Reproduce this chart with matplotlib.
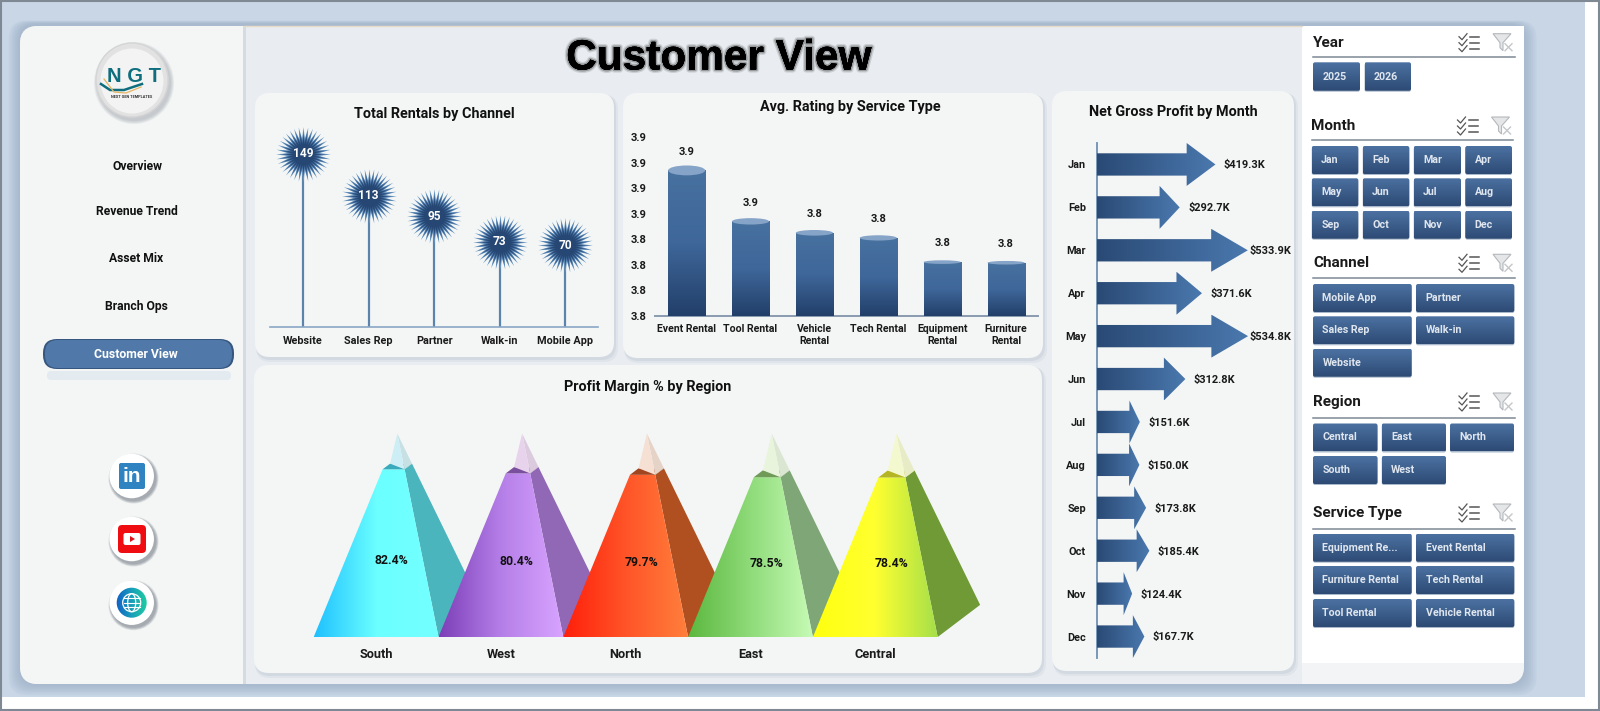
import numpy as np
import matplotlib
matplotlib.use("Agg")
import matplotlib.pyplot as plt
import matplotlib.patheffects as pe
from matplotlib.colors import LinearSegmentedColormap
from matplotlib.patches import Ellipse, FancyBboxPatch, Polygon, Rectangle
from matplotlib.path import Path

W, H = 1600, 711
FONT = ["Roboto", "DejaVu Sans"]
SANS = ["Liberation Sans", "DejaVu Sans"]
plt.rcParams["font.family"] = FONT
plt.rcParams["font.weight"] = "bold"

# chart data
channels = ["Website", "Sales Rep", "Partner", "Walk-in", "Mobile App"]
rentals = [149, 113, 95, 73, 70]

services = ["Event Rental", "Tool Rental", "Vehicle\nRental", "Tech Rental", "Equipment\nRental", "Furniture\nRental"]
ratings = [3.894, 3.854, 3.845, 3.841, 3.822, 3.8215]
rating_ticks = [3.78, 3.80, 3.82, 3.84, 3.86, 3.88, 3.90, 3.92]

months = ["Jan", "Feb", "Mar", "Apr", "May", "Jun", "Jul", "Aug", "Sep", "Oct", "Nov", "Dec"]
profit = [419.3, 292.7, 533.9, 371.6, 534.8, 312.8, 151.6, 150.0, 173.8, 185.4, 124.4, 167.7]

regions = ["South", "West", "North", "East", "Central"]
margins = [82.4, 80.4, 79.7, 78.5, 78.4]

# nav and slicers
nav_items = ["Overview", "Revenue Trend", "Asset Mix", "Branch Ops"]
nav_active = "Customer View"
slicer_year = ["2025", "2026"]
slicer_channel = ["Mobile App", "Partner", "Sales Rep", "Walk-in", "Website"]
slicer_region = ["Central", "East", "North", "South", "West"]
slicer_service = ["Equipment Re...", "Event Rental", "Furniture Rental", "Tech Rental", "Tool Rental", "Vehicle Rental"]

fig = plt.figure(figsize=(W / 100, H / 100), dpi=100, facecolor="white")
bg = fig.add_axes([0, 0, 1, 1])
bg.set_xlim(0, W)
bg.set_ylim(H, 0)
bg.axis("off")


def px_axes(l, t, r, b):
    ax = fig.add_axes([l / W, 1 - b / H, (r - l) / W, (b - t) / H])
    ax.patch.set_alpha(0)
    ax.tick_params(length=0)
    for s in ax.spines.values():
        s.set_visible(False)
    return ax


def rbox(x0, y0, x1, y1, r, **kw):
    p = FancyBboxPatch((x0 + r, y0 + r), x1 - x0 - 2 * r, y1 - y0 - 2 * r,
                       boxstyle=f"round,pad={r},rounding_size={r}", linewidth=kw.pop("lw", 0), **kw)
    bg.add_patch(p)
    return p


def card(x0, y0, x1, y1, r=15):
    rbox(x0 + 1, y0 + 2, x1 + 4, y1 + 5, r, fc="#dfe4ea")
    rbox(x0 + 1, y0 + 1, x1 + 2, y1 + 3, r, fc="#d3d9e1")
    rbox(x0, y0, x1, y1, r, fc="#f4f6f6")


def gradient(ax, clip, extent, cols, vertical=False, z=3):
    cmap = LinearSegmentedColormap.from_list("g", cols)
    arr = np.linspace(0, 1, 128).reshape(-1, 1) if vertical else np.linspace(0, 1, 128).reshape(1, -1)
    im = ax.imshow(arr, extent=extent, cmap=cmap, aspect="auto", zorder=z, origin="upper")
    im.set_clip_path(clip)
    return im


def button(x0, y0, x1, y1, label):
    rbox(x0, y0 + 1, x1, y1 + 1, 2, fc="#a9b8ca")
    p = rbox(x0, y0, x1, y1, 2, fc="none")
    gradient(bg, p, (x0, x1, y1, y0), ["#4c72a2", "#2d4a74"], vertical=True)
    bg.text(x0 + 9.5, (y0 + y1) / 2, label, color="#dfe6ef", fontsize=7.7, va="center", ha="left", zorder=5)


def slicer_header(x0, x1, y_title, y_line, title):
    bg.text(x0, y_title, title, fontsize=11, color="#1a1a1a", va="center", ha="left")
    bg.plot([x0, x1], [y_line, y_line], color="#7d8794", lw=1.1)
    # select-all icon
    ix = x0 + 146
    for k in range(3):
        yy = y_title - 6 + k * 6
        bg.plot([ix, ix + 3, ix + 8], [yy, yy + 3, yy - 3], color="#555555", lw=0.9)
        bg.plot([ix + 11, ix + 20], [yy, yy], color="#555555", lw=1.1)
    # clear-filter icon
    fx = x0 + 180
    bg.add_patch(Polygon([(fx, y_title - 9), (fx + 18, y_title - 9), (fx + 10, y_title),
                          (fx + 10, y_title + 8), (fx + 7, y_title + 5), (fx + 7, y_title)],
                         fc="#e4e6e8", ec="#b5b8bc", lw=0.8))
    bg.plot([fx + 12, fx + 19], [y_title + 1, y_title + 8], color="#c4c7ca", lw=1)
    bg.plot([fx + 12, fx + 19], [y_title + 8, y_title + 1], color="#c4c7ca", lw=1)


# page background
bg.add_patch(Rectangle((2, 2), 1583, 694.5, fc="#c8d6e6", lw=0))
for edge in ([[0, 1600], [1, 1]], [[1, 1], [0, 711]], [[0, 1600], [709.5, 709.5]], [[1598.5, 1598.5], [0, 711]]):
    bg.plot(edge[0], edge[1], color="#7f8994", lw=1.5)

# soft shadow round the main panel
for k in range(7, 0, -1):
    rbox(20 - k * 1.6, 24 - k * 0.5, 1524 + k * 1.8, 684 + k * 1.6, 18, fc="#8ea2ba", alpha=0.09)
main = rbox(20, 26, 1524, 684, 18, fc="#e9edf1")
bg.plot([244, 1302], [26, 26], color="#e6dcc8", lw=1)
# left navigation strip
nav = Rectangle((20, 26), 223, 658, fc="#f4f6f6", lw=0)
bg.add_patch(nav)
nav.set_clip_path(main)
bg.add_patch(Rectangle((243, 26), 3, 658, fc="#d5dbe2", lw=0))
# slicer strip
bg.add_patch(Rectangle((1302, 26), 222, 637, fc="white", lw=0))
low = Rectangle((1302, 663), 222, 21, fc="#f2f4f5", lw=0)
bg.add_patch(low)
low.set_clip_path(main)

# title
bg.text(719, 58.5, "Customer View", fontsize=30.5, color="black", ha="center", va="center",
        family=SANS, zorder=5,
        path_effects=[pe.withStroke(linewidth=4.5, foreground=(0, 0, 0, 0.12)),
                      pe.withStroke(linewidth=2.5, foreground=(0, 0, 0, 0.25)), pe.Normal()])

# logo
for k in range(4, 0, -1):
    bg.add_patch(Ellipse((134, 83), 72 + k * 2, 74 + k * 2, fc="#8b929a", alpha=0.13, lw=0))
bg.add_patch(Ellipse((132, 80), 72, 74, fc="#e2e2e2", ec="#d5d5d5", lw=1))
bg.add_patch(Ellipse((132, 81), 63, 65, fc="#f3f3f3", lw=0))
bg.text(134, 77, "N G T", fontsize=14.5, color="#0f6e7e", ha="center", va="center", family=SANS, zorder=4)
bg.plot([101, 110, 124, 142], [84, 90, 90, 84], color="#0f6e7e", lw=1.8, zorder=4)
bg.plot([104, 114, 126, 141], [79, 92, 93, 87], color="#e6b562", lw=0.9, zorder=4)
bg.text(132, 97, "NEXT GEN TEMPLATES", fontsize=2.8, color="#333333", ha="center", va="center", zorder=4)

for txt, yy, xx in zip(nav_items, [166.5, 211.5, 258.5, 306.5], [137.7, 136.5, 136, 136]):
    bg.text(xx, yy, txt, fontsize=8.7, color="#111111", ha="center", va="center")
rbox(47, 371, 231, 380, 4, fc="#cfdeec", alpha=0.45)
rbox(43, 339, 234, 369, 14, fc="#36567f")
rbox(45, 340, 232, 368, 13, fc="#5079a9")
bg.text(136, 354, nav_active, fontsize=8.8, color="white", ha="center", va="center")

# social icons
icon_y = [476, 539, 602.7]
for yy in icon_y:
    for k in range(4, 0, -1):
        bg.add_patch(Ellipse((133.5, yy + 2.5), 44 + k * 1.5, 44 + k * 1.5, fc="#5c6670", alpha=0.16, lw=0))
    bg.add_patch(Ellipse((131.7, yy), 44.5, 44.5, fc="white", lw=0))
rbox(119, icon_y[0] - 13, 145, icon_y[0] + 13, 2, fc="#2f83c1", zorder=3)
bg.text(132, icon_y[0] + 1, "in", color="white", fontsize=15, ha="center", va="center", zorder=4, family=SANS)
rbox(118, icon_y[1] - 14, 146, icon_y[1] + 14, 4, fc="#f00d12", zorder=3)
rbox(123.5, icon_y[1] - 6, 140.5, icon_y[1] + 6, 2, fc="white", zorder=4)
bg.add_patch(Polygon([(130, icon_y[1] - 3), (130, icon_y[1] + 3), (135, icon_y[1])], fc="#e01018", lw=0, zorder=5))
globe = Ellipse((131.7, icon_y[2]), 30, 30, fc="none", lw=0)
bg.add_patch(globe)
gradient(bg, globe, (116, 148, icon_y[2] + 16, icon_y[2] - 16), ["#1060c8", "#18a0b8", "#20d0a0"])
for w in (18, 8):
    bg.add_patch(Ellipse((131.7, icon_y[2]), w, 18, fc="none", ec="white", lw=0.9, zorder=4))
for off in (-4.5, 0, 4.5):
    bg.plot([123.5, 140], [icon_y[2] + off, icon_y[2] + off], color="white", lw=0.8, zorder=4)

# cards
card(255, 93, 614, 357)
card(623, 93, 1043, 358)
card(1052, 91, 1294, 671)
card(254, 365, 1042, 673)
title_style = dict(fontsize=10.4, color="#111111", ha="center", va="center")
bg.text(434.8, 114.3, "Total Rentals by Channel", **title_style)
bg.text(850.6, 106.7, "Avg. Rating by Service Type", **title_style)
bg.text(1173, 111.7, "Net Gross Profit by Month", **title_style)
bg.text(648, 386.7, "Profit Margin % by Region", **title_style)

# slicers
slicer_header(1313, 1515, 42.7, 57.3, "Year")
for lab, (x0, x1) in zip(slicer_year, [(1313, 1360), (1364.5, 1411)]):
    button(x0, 62.3, x1, 90.7, lab)
slicer_header(1311.5, 1513, 126, 140.3, "Month")
mx = [(1311.7, 1358.3), (1362.7, 1409.3), (1413.7, 1461), (1465.3, 1512)]
my = [146, 178.3, 210.7]
for i, lab in enumerate(months):
    button(mx[i % 4][0], my[i // 4], mx[i % 4][1], my[i // 4] + 28, lab)
wide = [(1313, 1411.7), (1416, 1514.3)]
slicer_header(1313, 1515, 263.3, 278.3, "Channel")
cy = [284, 316.3, 348.7]
for i, lab in enumerate(slicer_channel):
    button(wide[i % 2][0], cy[i // 2], wide[i % 2][1], cy[i // 2] + 28, lab)
slicer_header(1313, 1515, 402, 417.5, "Region")
rx = [(1313, 1377.5), (1381.7, 1446), (1450, 1514)]
ry = [423.5, 456]
for i, lab in enumerate(slicer_region):
    button(rx[i % 3][0], ry[i // 3], rx[i % 3][1], ry[i // 3] + 28, lab)
slicer_header(1313, 1515, 513, 528.6, "Service Type")
sy = [533.7, 566, 599]
for i, lab in enumerate(slicer_service):
    button(wide[i % 2][0], sy[i // 2], wide[i % 2][1], sy[i // 2] + 28, lab)

# Total rentals lollipops
ax = px_axes(270.3, 129.6, 598, 326.5)
xs = np.arange(len(channels))
ax.vlines(xs, 0, rentals, color="#5b84ad", lw=1.6, zorder=1)
star = Path.unit_regular_star(36, innerCircle=0.58)
for frac, col in zip([1, 0.88, 0.76, 0.64], ["#6f9ac2", "#4f7ba9", "#375c8c", "#264773"]):
    ax.scatter(xs, rentals, s=1560 * frac ** 2, marker=star, color=col, lw=0, zorder=2, clip_on=False)
for x, v in zip(xs, rentals):
    ax.text(x, v, str(v), color="white", fontsize=8.6, ha="center", va="center", zorder=3)
ax.set_xlim(-0.5, 4.5)
ax.set_ylim(0, 170)
ax.set_yticks([])
ax.set_xticks(xs, channels, fontsize=7.8, color="#1a1a1a")
ax.tick_params(axis="x", pad=6.5)
ax.spines["bottom"].set_visible(True)
ax.spines["bottom"].set_color("#8aa6c4")
ax.spines["bottom"].set_linewidth(1.2)

# Avg rating cylinders
ax = px_axes(654.7, 137.3, 1038, 315.6)
ymin, ymax = rating_ticks[0], rating_ticks[-1]
bw = 0.58
for i, v in enumerate(ratings):
    eh = (v - ymin) * 0.068
    rect = Rectangle((i - bw / 2, ymin), bw, v - ymin, fc="none", lw=0)
    ax.add_patch(rect)
    gradient(ax, rect, (i - bw / 2, i + bw / 2, ymin, v), ["#47719f", "#3f679a", "#223f69"], vertical=True)
    ax.add_patch(Ellipse((i, v), bw, eh, fc="#86a3c8", lw=0, zorder=4))
    ax.annotate(f"{v:.1f}", (i, v), xytext=(0, 13.5), textcoords="offset points", ha="center", va="center",
                fontsize=8, color="#1a1a1a")
ax.set_xlim(-0.5, 5.5)
ax.set_ylim(ymin, ymax)
ax.set_yticks(rating_ticks, [f"{t:.1f}" for t in rating_ticks], fontsize=8, color="#1a1a1a")
ax.set_xticks(range(len(services)), services, fontsize=7.6, color="#1a1a1a")
ax.tick_params(axis="y", pad=6)
ax.tick_params(axis="x", pad=6)
ax.spines["bottom"].set_visible(True)
ax.spines["bottom"].set_color("#8a9bb0")
ax.spines["bottom"].set_linewidth(1.4)

# Net gross profit arrows
ax = px_axes(1097, 143, 1255.2, 658)
for i, v in enumerate(profit):
    hl = v * 0.243
    arrow = Polygon([(0, i - 0.26), (v - hl, i - 0.26), (v - hl, i - 0.5), (v, i), (v - hl, i + 0.5),
                     (v - hl, i + 0.26), (0, i + 0.26)], fc="none", lw=0)
    ax.add_patch(arrow)
    gradient(ax, arrow, (0, v, i + 0.5, i - 0.5), ["#2a4a75", "#4a78ae"])
    ax.text(min(v + 30, 541), i + 0.02, f"${v:.1f}K", fontsize=7.9, color="#1a1a1a", ha="left", va="center",
            clip_on=False)
ax.set_xlim(0, 560)
ax.set_ylim(11.5, -0.5)
ax.set_xticks([])
ax.set_yticks(range(12), months, fontsize=7.8, color="#1a1a1a")
ax.tick_params(axis="y", pad=8)
ax.spines["left"].set_visible(True)
ax.spines["left"].set_color("#6e8fb2")
ax.spines["left"].set_linewidth(1.3)

# Profit margin pyramids
ax = px_axes(313.7, 433.5, 937.7, 637)
front_cols = [["#1fc0ff", "#6bffff", "#74ffff"], ["#7d3fb8", "#b57fe8", "#d8a4ff"], ["#ff1f0a", "#ff5428", "#ff7f3c"],
              ["#5cb83f", "#8fdb7a", "#c6fbb5"], ["#ffff10", "#ffff30", "#a5e04a"]]
side_cols = ["#4ab5bd", "#9068b5", "#b05020", "#7fa676", "#6f9a35"]
top_cols = ["#3aa9bc", "#7a4f9d", "#a04520", "#6f9a58", "#b5b524"]
ghost_cols = ["#cdeef5", "#e8d3ec", "#f5e0d3", "#e8f5dc", "#f4f8cf"]
ghost_side = ["#c6e0e4", "#dccbdf", "#e6d3c8", "#dbe6d2", "#e8ecc6"]
dx, dy = 0.34, 15.8
apex_dx = 0.5 + dx / 2


def lerp(a, b, t):
    return (a[0] + (b[0] - a[0]) * t, a[1] + (b[1] - a[1]) * t)


for i, v in enumerate(margins):
    t = v / 100
    fl, fr, br = (i, 0), (i + 1, 0), (i + 1 + dx, dy)
    bl = (i + dx, dy)
    apex = (i + apex_dx, 100)
    cfl, cfr, cbr, cbl = lerp(fl, apex, t), lerp(fr, apex, t), lerp(br, apex, t), lerp(bl, apex, t)
    ax.add_patch(Polygon([fr, br, cbr, cfr], fc=side_cols[i], lw=0, zorder=2 + i, clip_on=False))
    front = Polygon([fl, fr, cfr, cfl], fc="none", lw=0)
    ax.add_patch(front)
    gradient(ax, front, (i, i + 1, 0, 100), front_cols[i], z=2 + i)
    ax.add_patch(Polygon([cfl, cfr, cbr, cbl], fc=top_cols[i], lw=0, zorder=2 + i, clip_on=False))
    ax.add_patch(Polygon([cfr, cbr, apex], fc=ghost_side[i], lw=0, zorder=2 + i, clip_on=False))
    ax.add_patch(Polygon([cbl, cfr, apex], fc=ghost_cols[i], lw=0, zorder=2 + i, clip_on=False))
    ax.text(i + 0.626, v * 0.459, f"{v:.1f}%", fontsize=8.8, color="#111111", ha="center", va="center", zorder=20)
ax.set_xlim(0, 5)
ax.set_ylim(0, 100)
ax.set_yticks([])
ax.set_xticks(np.arange(5) + 0.5, regions, fontsize=9.2, color="#1a1a1a")
ax.tick_params(axis="x", pad=8)

bg.set_xlim(0, W)
bg.set_ylim(H, 0)
fig.savefig("out.png", dpi=100, facecolor="white")
